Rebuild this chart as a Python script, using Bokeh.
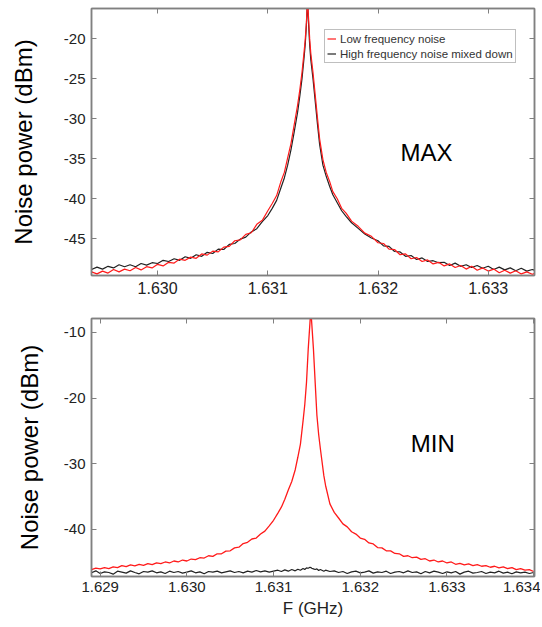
from bokeh.plotting import figure
from bokeh.layouts import column
from bokeh.models import (Range1d, LinearAxis, FixedTicker, PrintfTickFormatter,
                          Label, Legend, LegendItem)
from bokeh.embed import file_html
from bokeh.resources import INLINE

FONT = "Liberation Sans"
GRAY = "#808080"
TXT = "#222222"
RED = "#ff1a1a"
BLK = "#222222"

# ---------------- data ----------------
TOP_XTICKS = [1.630, 1.631, 1.632, 1.633]
TOP_YTICKS = [-45, -40, -35, -30, -25, -20]
BOT_XTICKS = [1.629, 1.630, 1.631, 1.632, 1.633, 1.634]
BOT_YTICKS = [-40, -30, -20, -10]

F_TOP = [1.62940, 1.62945, 1.62950, 1.62955, 1.62960, 1.62965, 1.62970, 1.62975, 1.62980, 1.62985,
         1.62990, 1.62995, 1.63000, 1.63005, 1.63010, 1.63015, 1.63020, 1.63025, 1.63030, 1.63035,
         1.63040, 1.63045, 1.63050, 1.63055, 1.63060, 1.63065, 1.63070, 1.63075, 1.63080, 1.63085,
         1.63090, 1.63095, 1.63100,
         1.63104, 1.63108, 1.63112, 1.63115, 1.63118, 1.63121, 1.63124, 1.63127, 1.63129, 1.63131,
         1.63133, 1.63134, 1.63135, 1.63136, 1.63137, 1.63138, 1.63139, 1.63141, 1.63143, 1.63145,
         1.63147, 1.63150, 1.63153, 1.63156, 1.63159, 1.63163, 1.63167, 1.63171, 1.63176, 1.63182,
         1.63188, 1.63194,
         1.63200, 1.63205, 1.63210, 1.63215, 1.63220, 1.63225, 1.63230, 1.63235, 1.63240, 1.63245,
         1.63250, 1.63255, 1.63260, 1.63265, 1.63270, 1.63275, 1.63280, 1.63285, 1.63290, 1.63295,
         1.63300, 1.63305, 1.63310, 1.63315, 1.63320, 1.63325, 1.63330, 1.63335, 1.63340, 1.63343]

TOP_LOW = [-49.15, -49.4, -49.05, -49.3, -48.85, -49.15, -48.8, -49.0, -48.6, -48.9,
           -48.5, -48.65, -48.2, -48.4, -47.95, -48.05, -47.55, -47.7, -47.3, -47.45,
           -46.9, -47.05, -46.55, -46.65, -46.05, -45.95, -45.25, -45.15, -44.45, -44.25,
           -43.2, -42.7, -41.5,
           -40.6, -39.6, -37.8, -36.7, -34.9, -33.1, -30.7, -28.3, -26.4, -24.2,
           -21.5, -20.0, -18.0, -15.0, -17.5, -20.0, -21.8, -24.2, -27.0, -29.8,
           -32.5, -35.1, -36.7, -37.8, -39.1, -40.0, -41.2, -41.8, -42.8, -43.45,
           -44.3, -44.7,
           -45.5, -45.6, -46.3, -46.35, -47.0, -46.9, -47.5, -47.35, -47.85, -47.65,
           -48.15, -47.95, -48.4, -48.15, -48.6, -48.35, -48.8, -48.45, -48.95, -48.65,
           -49.05, -48.8, -49.25, -48.95, -49.3, -49.0, -49.4, -49.15, -49.45, -49.3]

TOP_HIGH = [-48.85, -48.55, -48.8, -48.45, -48.65, -48.25, -48.5, -48.25, -48.5, -48.1,
            -48.3, -48.0, -48.1, -47.7, -47.85, -47.5, -47.7, -47.25, -47.45, -47.0,
            -47.2, -46.7, -46.85, -46.3, -46.35, -45.7, -45.6, -45.05, -44.8, -44.15,
            -43.75, -42.85, -42.1,
            -41.2, -40.2, -38.6, -37.4, -35.8, -33.9, -31.6, -29.2, -27.2, -25.0,
            -22.2, -20.6, -18.3, -15.2, -18.2, -20.8, -22.6, -25.0, -27.8, -30.6,
            -33.2, -35.8, -37.2, -38.4, -39.5, -40.5, -41.5, -42.2, -43.0, -43.7,
            -44.4, -44.9,
            -45.25, -45.9, -45.95, -46.6, -46.65, -47.2, -47.1, -47.6, -47.4, -47.85,
            -47.75, -48.0, -47.95, -48.35, -48.05, -48.45, -48.25, -48.6, -48.35, -48.7,
            -48.45, -48.85, -48.55, -48.9, -48.65, -49.0, -48.7, -49.05, -48.85, -49.0]

F_BOT = [1.62890, 1.62895, 1.62900, 1.62905, 1.62910, 1.62915, 1.62920, 1.62925, 1.62930, 1.62935,
         1.62940, 1.62945, 1.62950, 1.62955, 1.62960, 1.62965, 1.62970, 1.62975, 1.62980, 1.62985,
         1.62990, 1.62995, 1.63000, 1.63005, 1.63010, 1.63015, 1.63020, 1.63025, 1.63030, 1.63035,
         1.63040, 1.63045, 1.63050, 1.63055, 1.63060, 1.63065, 1.63070, 1.63075, 1.63080, 1.63085,
         1.63090, 1.63095, 1.63100,
         1.63105, 1.63109, 1.63113, 1.63117, 1.63121, 1.63125, 1.63128, 1.63131, 1.63134, 1.63136,
         1.63138, 1.63140, 1.63142, 1.63143, 1.63144, 1.63146, 1.63148, 1.63150, 1.63152, 1.63154,
         1.63158, 1.63160, 1.63165,
         1.63170, 1.63175, 1.63180, 1.63185, 1.63190, 1.63195, 1.63200, 1.63205, 1.63210, 1.63215,
         1.63220, 1.63225, 1.63230, 1.63235, 1.63240, 1.63245, 1.63250, 1.63255, 1.63260, 1.63265,
         1.63270, 1.63275, 1.63280, 1.63285, 1.63290, 1.63295, 1.63300, 1.63305, 1.63310, 1.63315,
         1.63320, 1.63325, 1.63330, 1.63335, 1.63340, 1.63345, 1.63350, 1.63355, 1.63360, 1.63365,
         1.63370, 1.63375, 1.63380, 1.63385, 1.63390, 1.63395, 1.63400]

BOT_LOW = [-46.1, -45.9, -46.0, -45.8, -45.95, -45.7, -45.8, -45.5, -45.65, -45.4,
           -45.55, -45.3, -45.45, -45.2, -45.35, -45.1, -45.2, -44.95, -45.1, -44.8,
           -44.95, -44.65, -44.8, -44.5, -44.6, -44.3, -44.35, -44.0, -44.1, -43.7,
           -43.7, -43.3, -43.25, -42.8, -42.7, -42.15, -41.95, -41.45, -41.3, -40.7,
           -40.25, -39.45, -38.6,
           -37.5, -36.6, -35.4, -34.0, -32.7, -30.9, -29.0, -27.0, -23.5, -21.0,
           -17.6, -12.5, -8.5, -6.5, -8.5, -12.5, -17.6, -22.6, -25.5, -27.7,
           -31.8, -33.3, -36.1,
           -37.4, -38.25, -39.15, -39.6, -40.35, -40.7, -41.3, -41.5, -42.05, -42.2,
           -42.75, -42.8, -43.25, -43.25, -43.65, -43.7, -44.1, -44.0, -44.3, -44.2,
           -44.55, -44.45, -44.8, -44.65, -44.95, -44.8, -45.1, -44.95, -45.3, -45.15,
           -45.4, -45.25, -45.5, -45.35, -45.6, -45.5, -45.75, -45.6, -45.85, -45.7,
           -45.95, -45.8, -46.1, -45.95, -46.2, -46.1, -46.4]

BOT_HIGH = [-46.6, -46.3, -46.7, -46.45, -46.55, -46.8, -46.35, -46.5, -46.65, -46.3,
            -46.55, -46.75, -46.4, -46.5, -46.3, -46.6, -46.45, -46.7, -46.35, -46.55,
            -46.4, -46.65, -46.5, -46.3, -46.6, -46.45, -46.75, -46.4, -46.5, -46.35,
            -46.6, -46.45, -46.3, -46.55, -46.4, -46.6, -46.35, -46.5, -46.25, -46.45,
            -46.3, -46.5, -46.35,
            -46.2, -46.4, -46.15, -46.35, -46.1, -46.3, -46.05, -46.2, -45.95, -46.1,
            -45.85, -45.9, -45.75, -45.8, -45.9, -46.0, -46.1, -46.0, -46.25, -46.1,
            -46.35, -46.2, -46.4,
            -46.3, -46.55, -46.4, -46.7, -46.45, -46.35, -46.6, -46.5, -46.3, -46.65,
            -46.45, -46.55, -46.35, -46.7, -46.5, -46.4, -46.6, -46.3, -46.55, -46.45,
            -46.75, -46.4, -46.6, -46.35, -46.5, -46.7, -46.45, -46.6, -46.4, -46.8,
            -46.5, -46.35, -46.65, -46.55, -46.4, -46.7, -46.5, -46.6, -46.35, -46.65,
            -46.5, -46.75, -46.45, -46.6, -46.5, -46.7, -46.55]

SERIES_NAMES = ["Low frequency noise", "High frequency noise mixed down"]


def style(p, xticks, yticks, xfs, yfs, xstand, ylab_stand):
    p.xgrid.visible = False
    p.ygrid.visible = False
    p.outline_line_color = GRAY
    p.outline_line_width = 1.5
    p.background_fill_color = "white"
    p.border_fill_color = "white"
    xa = p.below[0]
    ya = p.left[0]
    xa.ticker = FixedTicker(ticks=xticks)
    xa.formatter = PrintfTickFormatter(format="%.3f")
    ya.ticker = FixedTicker(ticks=yticks)
    ya.formatter = PrintfTickFormatter(format="%d")
    for a, fs in ((xa, xfs), (ya, yfs)):
        a.major_label_text_font = FONT
        a.major_label_text_font_size = fs
        a.major_label_text_color = TXT
        a.major_tick_in = 5
        a.major_tick_out = 0
        a.minor_tick_line_color = None
        a.major_tick_line_color = GRAY
        a.axis_line_color = GRAY
        a.axis_line_width = 1.5
        a.axis_label_text_font = FONT
        a.axis_label_text_font_style = "normal"
        a.axis_label_text_color = "black"
    xa.major_label_standoff = xstand
    ya.major_label_standoff = 6
    ya.axis_label = "Noise power (dBm)"
    ya.axis_label_text_font_size = "24px"
    ya.axis_label_standoff = ylab_stand
    # mirrored tick marks on the right and top edges (no labels drawn)
    for ticks, side in ((yticks, "right"), (xticks, "above")):
        ax = LinearAxis(ticker=FixedTicker(ticks=ticks),
                        major_label_text_font_size="1px", major_label_standoff=0,
                        major_label_text_color=None, major_label_text_alpha=0,
                        major_tick_in=5, major_tick_out=0,
                        minor_tick_line_color=None, major_tick_line_color=GRAY,
                        axis_line_color=GRAY, axis_line_width=1.5)
        p.add_layout(ax, side)


# ---------------- top panel (MAX) ----------------
p1 = figure(width=540, height=302, x_range=Range1d(1.62940, 1.63342),
            y_range=Range1d(-49.6, -16.2), output_backend="svg",
            toolbar_location=None, min_border_left=91, min_border_right=6,
            min_border_top=8, min_border_bottom=27)
style(p1, TOP_XTICKS, TOP_YTICKS, "16px", "15px", 6, 24)
r1b = p1.line(F_TOP, TOP_HIGH, line_color=BLK, line_width=1.2)
r1r = p1.line(F_TOP, TOP_LOW, line_color=RED, line_width=1.2)
legend = Legend(items=[LegendItem(label=SERIES_NAMES[0], renderers=[r1r]),
                       LegendItem(label=SERIES_NAMES[1], renderers=[r1b])],
                location=(233, 212), label_text_font=FONT, label_text_font_size="11.5px",
                label_text_color="#333333", glyph_width=9, glyph_height=13,
                label_height=13, spacing=2, padding=2, margin=0, label_standoff=4,
                border_line_color=GRAY, border_line_width=1, background_fill_color="white",
                background_fill_alpha=1)
p1.add_layout(legend)
p1.add_layout(Label(x=1.632440, y=-34.2, text="MAX", text_align="center",
                    text_baseline="middle", text_font=FONT, text_font_size="24px",
                    text_color="black"))

# ---------------- bottom panel (MIN) ----------------
p2 = figure(width=540, height=325, x_range=Range1d(1.6289, 1.63401),
            y_range=Range1d(-47.16, -7.87), output_backend="svg",
            toolbar_location=None, min_border_left=91, min_border_right=6,
            min_border_top=16, min_border_bottom=51)
style(p2, BOT_XTICKS, BOT_YTICKS, "15px", "15px", 5, 18)
xa2 = p2.below[0]
p2.line(F_BOT, BOT_HIGH, line_color=BLK, line_width=1.2)
p2.line(F_BOT, BOT_LOW, line_color=RED, line_width=1.3)
xa2.axis_label = "F (GHz)"
xa2.axis_label_text_font_size = "17px"
xa2.axis_label_standoff = 4
xa2.axis_label_text_color = "#222222"
p2.add_layout(Label(x=1.632837, y=-26.9, text="MIN", text_align="center",
                    text_baseline="middle", text_font=FONT, text_font_size="24px",
                    text_color="black"))

layout = column(p1, p2)
open("out.html", "w").write(file_html(layout, INLINE))
